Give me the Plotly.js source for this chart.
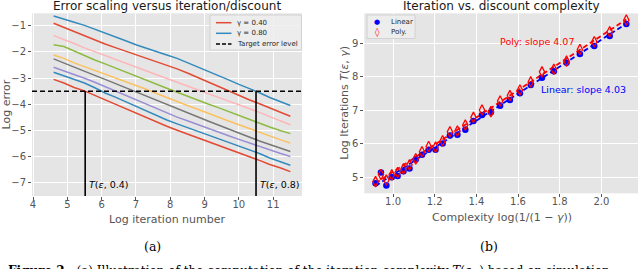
<!DOCTYPE html>
<html>
<head>
<meta charset="utf-8">
<script src="https://cdn.plot.ly/plotly-3.0.1.min.js"></script>
<style>
  html, body { margin: 0; padding: 0; background: #ffffff; }
  #chart { width: 640px; height: 269px; }
</style>
</head>
<body>
<div id="chart"></div>
<script>
// ---------- Panel (a): error scaling ----------
const iterX = [4.6, 4.9, 5.2, 5.5, 5.8, 6.1, 6.4, 6.7, 7.0, 7.3, 7.6, 7.9, 8.2, 8.5, 8.8, 9.1, 9.4, 9.7, 10.0, 10.3, 10.6, 10.9, 11.2, 11.5];
const gammaLabels = ['0.40', '0.45', '0.50', '0.55', '0.60', '0.65', '0.70', '0.75', '0.80'];
const errGamma040 = [-3.05, -3.19, -3.36, -3.49, -3.66, -3.83, -3.99, -4.17, -4.33, -4.50, -4.67, -4.84, -4.99, -5.13, -5.28, -5.41, -5.57, -5.70, -5.86, -6.00, -6.14, -6.30, -6.42, -6.57];
const errGamma045 = [-2.78, -2.92, -3.06, -3.19, -3.37, -3.57, -3.73, -3.91, -4.08, -4.26, -4.42, -4.60, -4.75, -4.89, -5.03, -5.18, -5.31, -5.46, -5.60, -5.74, -5.88, -6.05, -6.19, -6.33];
const errGamma050 = [-2.59, -2.72, -2.87, -3.01, -3.16, -3.33, -3.49, -3.66, -3.83, -3.99, -4.17, -4.34, -4.49, -4.63, -4.78, -4.92, -5.06, -5.20, -5.34, -5.48, -5.62, -5.76, -5.87, -5.99];
const errGamma055 = [-2.27, -2.42, -2.57, -2.73, -2.90, -3.05, -3.21, -3.37, -3.53, -3.70, -3.87, -4.03, -4.19, -4.34, -4.49, -4.64, -4.79, -4.95, -5.10, -5.25, -5.40, -5.53, -5.67, -5.80];
const errGamma060 = [-2.12, -2.25, -2.42, -2.56, -2.71, -2.86, -3.01, -3.15, -3.29, -3.43, -3.59, -3.75, -3.90, -4.05, -4.19, -4.35, -4.50, -4.64, -4.78, -4.93, -5.07, -5.22, -5.35, -5.48];
const errGamma065 = [-1.73, -1.80, -1.97, -2.15, -2.31, -2.46, -2.62, -2.77, -2.93, -3.08, -3.24, -3.39, -3.54, -3.70, -3.84, -3.99, -4.13, -4.28, -4.43, -4.58, -4.73, -4.87, -5.00, -5.12];
const errGamma070 = [-1.38, -1.52, -1.68, -1.85, -2.00, -2.14, -2.29, -2.44, -2.58, -2.73, -2.88, -3.02, -3.16, -3.31, -3.46, -3.60, -3.74, -3.88, -4.02, -4.16, -4.31, -4.47, -4.63, -4.78];
const errGamma075 = [-0.91, -1.07, -1.25, -1.41, -1.56, -1.70, -1.84, -1.97, -2.11, -2.24, -2.37, -2.50, -2.65, -2.81, -2.98, -3.15, -3.33, -3.51, -3.67, -3.83, -3.98, -4.14, -4.31, -4.46];
const errGamma080 = [-0.63, -0.74, -0.87, -0.99, -1.13, -1.28, -1.43, -1.58, -1.73, -1.87, -2.00, -2.12, -2.25, -2.41, -2.57, -2.73, -2.90, -3.07, -3.24, -3.39, -3.56, -3.74, -3.90, -4.05];
const targetLevel = -3.5;
const crossX = [5.52, 10.5];
const crossLabels = ['0.4', '0.8'];

// ---------- Panel (b): iteration vs complexity ----------
const complexityX = [0.916, 0.942, 0.968, 0.994, 1.022, 1.050, 1.079, 1.109, 1.139, 1.171, 1.204, 1.238, 1.273, 1.309, 1.347, 1.386, 1.427, 1.470, 1.514, 1.561, 1.609, 1.661, 1.715, 1.772, 1.833, 1.897, 1.966, 2.040, 2.120];
const linearIters = [4.82, 5.14, 4.75, 5.00, 5.04, 5.18, 5.26, 5.53, 5.67, 5.82, 5.82, 6.01, 6.25, 6.27, 6.42, 6.68, 6.86, 6.94, 7.14, 7.31, 7.51, 7.76, 7.97, 8.17, 8.42, 8.68, 8.92, 9.22, 9.58];
const polyIters = [4.87, 5.08, 4.92, 5.07, 5.14, 5.25, 5.37, 5.55, 5.76, 5.92, 5.90, 6.09, 6.36, 6.38, 6.56, 6.79, 7.01, 6.96, 7.28, 7.44, 7.61, 7.85, 8.15, 8.23, 8.47, 8.82, 9.05, 9.35, 9.70];
const fitNames = ['Linear', 'Poly'];
const fitSlope = [4.03, 4.07];
const fitIntercept = [1.05, 1.09];

// ---------- styling ----------
const ggColors = ['#E24A33', '#348ABD', '#988ED5', '#777777', '#FBC15E', '#8EBA42', '#FFB5B8', '#E24A33', '#348ABD'];
const errSeries = [errGamma040, errGamma045, errGamma050, errGamma055, errGamma060, errGamma065, errGamma070, errGamma075, errGamma080];
const FONT = 'DejaVu Sans, sans-serif';
const SERIF = 'DejaVu Serif, serif';
const TICKC = '#555555';
const W = 640, H = 269;
const px = v => v / W;
const py = v => 1 - v / H;

const traces = [];
errSeries.forEach((ys, i) => {
  traces.push({
    x: iterX, y: ys, type: 'scatter', mode: 'lines',
    name: '\u03b3 = ' + gammaLabels[i],
    line: { color: ggColors[i], width: 1.5 },
    xaxis: 'x', yaxis: 'y', showlegend: false, hoverinfo: 'skip'
  });
});

const fitColors = ['#0000FF', '#FF0000'];
[0, 1].forEach(k => {
  traces.push({
    x: complexityX,
    y: complexityX.map(v => fitSlope[k] * v + fitIntercept[k]),
    type: 'scatter', mode: 'lines', name: fitNames[k] + ' fit',
    line: { color: fitColors[k], width: 1.8, dash: '5px,3px' },
    xaxis: 'x2', yaxis: 'y2', showlegend: false, hoverinfo: 'skip'
  });
});
traces.push({
  x: complexityX, y: linearIters, type: 'scatter', mode: 'markers', name: 'Linear',
  marker: { symbol: 'circle', size: 6.5, color: '#0000FF', line: { width: 0 } },
  xaxis: 'x2', yaxis: 'y2', showlegend: false
});
traces.push({
  x: complexityX, y: polyIters, type: 'scatter', mode: 'markers', name: 'Poly.',
  marker: { symbol: 'diamond-tall-open', size: 7.5, color: '#FF0000', line: { width: 1.3, color: '#FF0000' } },
  xaxis: 'x2', yaxis: 'y2', showlegend: false
});

const axisCommon = {
  showgrid: true, gridcolor: '#FFFFFF', gridwidth: 1,
  zeroline: false, showline: false,
  ticks: 'outside', ticklen: 3, tickwidth: 1, tickcolor: TICKC,
  tickfont: { family: FONT, size: 10, color: TICKC },
  fixedrange: true
};

const shapes = [
  { type: 'line', xref: 'x domain', yref: 'y', x0: 0, x1: 1, y0: targetLevel, y1: targetLevel,
    line: { color: '#000000', width: 1.5, dash: '5px,3px' }, layer: 'above' }
];
crossX.forEach(cx => {
  shapes.push({ type: 'line', xref: 'x', yref: 'y', x0: cx, x1: cx, y0: -7.5, y1: targetLevel,
    line: { color: '#000000', width: 1.6 }, layer: 'above' });
});

// manual legend (a)
shapes.push({ type: 'rect', xref: 'paper', yref: 'paper', x0: px(210), x1: px(301.5), y0: py(50), y1: py(15),
  fillcolor: 'rgba(238,238,238,0.85)', line: { color: '#d2d2d2', width: 1 }, layer: 'above' });
const legA = [
  { c: ggColors[0], dash: 'solid', t: '\u03b3 = 0.40', y: 22.7 },
  { c: ggColors[8], dash: 'solid', t: '\u03b3 = 0.80', y: 33.3 },
  { c: '#000000', dash: '4px,2px', t: 'Target error level', y: 44 }
];
legA.forEach(e => shapes.push({ type: 'line', xref: 'paper', yref: 'paper', x0: px(216), x1: px(231.5), y0: py(e.y), y1: py(e.y),
  line: { color: e.c, width: 1.5, dash: e.dash }, layer: 'above' }));
// manual legend (b)
shapes.push({ type: 'rect', xref: 'paper', yref: 'paper', x0: px(367), x1: px(415), y0: py(38.5), y1: py(15),
  fillcolor: 'rgba(238,238,238,0.85)', line: { color: '#d2d2d2', width: 1 }, layer: 'above' });

const annotations = [
  { text: 'Error scaling versus iteration/discount', x: px(167), y: py(6), xref: 'paper', yref: 'paper',
    showarrow: false, xanchor: 'center', yanchor: 'middle', font: { family: FONT, size: 12, color: '#1a1a1a' } },
  { text: 'Iteration vs. discount complexity', x: px(501.5), y: py(6), xref: 'paper', yref: 'paper',
    showarrow: false, xanchor: 'center', yanchor: 'middle', font: { family: FONT, size: 12, color: '#1a1a1a' } },
  { text: 'Log iteration number', x: px(167), y: py(219), xref: 'paper', yref: 'paper',
    showarrow: false, xanchor: 'center', yanchor: 'middle', font: { family: FONT, size: 11, color: TICKC } },
  { text: 'Log error', x: px(6.7), y: py(104.7), xref: 'paper', yref: 'paper', textangle: -90,
    showarrow: false, xanchor: 'center', yanchor: 'middle', font: { family: FONT, size: 11, color: TICKC } },
  { text: 'Complexity log(1/(1 \u2212 <i>\u03b3</i>))', x: px(501.5), y: py(217), xref: 'paper', yref: 'paper',
    showarrow: false, xanchor: 'center', yanchor: 'middle', font: { family: FONT, size: 11, color: TICKC } },
  { text: 'Log Iterations <i>T</i>(<i>\u03b5</i>, <i>\u03b3</i>)', x: px(344.5), y: py(103.3), xref: 'paper', yref: 'paper', textangle: -90,
    showarrow: false, xanchor: 'center', yanchor: 'middle', font: { family: FONT, size: 11, color: TICKC } },
  { text: 'Poly: slope ' + fitSlope[1].toFixed(2), x: 1.689, y: 9.07, xref: 'x2', yref: 'y2',
    showarrow: false, xanchor: 'center', yanchor: 'middle', font: { family: FONT, size: 9.5, color: '#FF0000' } },
  { text: 'Linear: slope ' + fitSlope[0].toFixed(2), x: 1.912, y: 7.61, xref: 'x2', yref: 'y2',
    showarrow: false, xanchor: 'center', yanchor: 'middle', font: { family: FONT, size: 9.5, color: '#0000FF' } },
  { text: '(a)', x: px(152), y: py(246.7), xref: 'paper', yref: 'paper',
    showarrow: false, xanchor: 'center', yanchor: 'middle', font: { family: SERIF, size: 12.5, color: '#000' } },
  { text: '(b)', x: px(489), y: py(246.7), xref: 'paper', yref: 'paper',
    showarrow: false, xanchor: 'center', yanchor: 'middle', font: { family: SERIF, size: 12.5, color: '#000' } },
  { text: '<b>Figure 2.</b>  (a) Illustration of the computation of the iteration complexity <i>T</i>(<i>\u03b5</i>,\u00b7) based on simulation',
    x: px(6), y: py(271), xref: 'paper', yref: 'paper',
    showarrow: false, xanchor: 'left', yanchor: 'middle', font: { family: SERIF, size: 12, color: '#000' } }
];
crossX.forEach((cx, i) => {
  annotations.push({ text: '<i>T</i>(<i>\u03b5</i>, ' + crossLabels[i] + ')', x: cx, y: -7.08, xref: 'x', yref: 'y',
    xshift: 2, showarrow: false, xanchor: 'left', yanchor: 'middle', font: { family: FONT, size: 9.5, color: '#000' } });
});
legA.forEach(e => annotations.push({ text: e.t, x: px(235), y: py(e.y), xref: 'paper', yref: 'paper',
  showarrow: false, xanchor: 'left', yanchor: 'middle', font: { family: FONT, size: 7, color: '#262626' } }));
annotations.push({ text: '\u25cf', x: px(377), y: py(21.7), xref: 'paper', yref: 'paper', showarrow: false,
  xanchor: 'center', yanchor: 'middle', font: { family: FONT, size: 7, color: '#0000FF' } });
annotations.push({ text: '\u25ca', x: px(377), y: py(32.3), xref: 'paper', yref: 'paper', showarrow: false,
  xanchor: 'center', yanchor: 'middle', font: { family: FONT, size: 9, color: '#FF0000' } });
annotations.push({ text: 'Linear', x: px(389), y: py(21.7), xref: 'paper', yref: 'paper', showarrow: false,
  xanchor: 'left', yanchor: 'middle', font: { family: FONT, size: 7, color: '#262626' } });
annotations.push({ text: 'Poly.', x: px(389), y: py(32.3), xref: 'paper', yref: 'paper', showarrow: false,
  xanchor: 'left', yanchor: 'middle', font: { family: FONT, size: 7, color: '#262626' } });

const xTickAdj = { ticklabelstandoff: -4 };
const layout = {
  width: W, height: H,
  margin: { l: 0, r: 0, t: 0, b: 0, pad: 0 },
  paper_bgcolor: '#FFFFFF', plot_bgcolor: '#E5E5E5',
  showlegend: false,
  font: { family: FONT },
  xaxis: Object.assign({}, axisCommon, xTickAdj, { domain: [px(32), px(302)], range: [3.97, 11.84], dtick: 1, tick0: 0, anchor: 'y' }),
  yaxis: Object.assign({}, axisCommon, { domain: [py(196), py(13.3)], range: [-7.5, -0.53], dtick: 1, tick0: 0, anchor: 'x' }),
  xaxis2: Object.assign({}, axisCommon, xTickAdj, { domain: [px(364.3), px(638)], range: [0.862, 2.176], dtick: 0.2, tick0: 0, tickformat: '.1f', anchor: 'y2' }),
  yaxis2: Object.assign({}, axisCommon, { domain: [py(193.3), py(13.3)], range: [4.52, 9.9], dtick: 1, tick0: 0, anchor: 'x2' }),
  shapes: shapes,
  annotations: annotations
};

Plotly.newPlot('chart', traces, layout, { displayModeBar: false, staticPlot: true });
</script>
</body>
</html>
